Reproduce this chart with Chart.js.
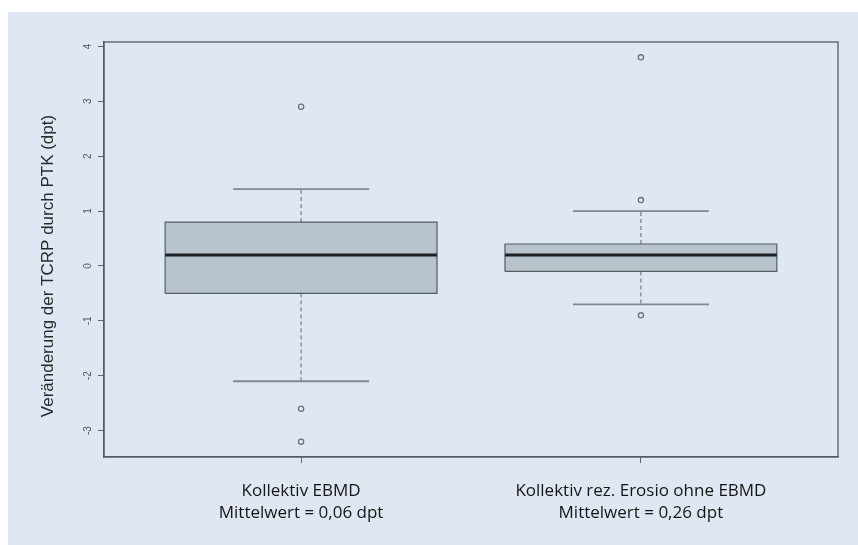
<!DOCTYPE html>
<html>
<head>
<meta charset="utf-8">
<script src="https://cdn.jsdelivr.net/npm/chart.js@4"></script>
<style>
	html, body { margin: 0; padding: 0; background: #fff; }
	#wrap { position: relative; width: 858px; height: 545px; }
	#bg { position: absolute; left: 8px; top: 12px; right: 0; bottom: 0; background: #dfe8f2; }
	#chart { position: absolute; left: 0; top: 0; }
</style>
</head>
<body>
<div id="wrap">
	<div id="bg"></div>
	<canvas id="chart" width="858" height="545"></canvas>
</div>
<script>
'use strict';

// Box plot figures (dpt).
const categories = [
	[ 'Kollektiv EBMD', 'Mittelwert = 0,06 dpt' ],
	[ 'Kollektiv rez. Erosio ohne EBMD', 'Mittelwert = 0,26 dpt' ],
];
const lowerWhisker = [ -2.1, -0.7 ];
const lowerQuartile = [ -0.5, -0.1 ];
const median = [ 0.2, 0.2 ];
const upperQuartile = [ 0.8, 0.4 ];
const upperWhisker = [ 1.4, 1.0 ];
const outliers = [ [ 2.9, -2.6, -3.2 ], [ 3.8, 1.2, -0.9 ] ];
const yTicks = [ -3, -2, -1, 0, 1, 2, 3, 4 ];

const BOX_HALF = 0.4;   // half box width, x units
const CAP_HALF = 0.2;   // half staple width

const seg = ( x0, x1, y0, y1 ) => [ { x: x0, y: y0 }, { x: x1, y: y1 } ];
const base = { pointRadius: 0, fill: false, tension: 0 };

// lower `order` is painted on top
const datasets = [];
categories.forEach( ( c, i ) => {
	const x = i + 1;
	const lo = x - BOX_HALF, hi = x + BOX_HALF;
	// box fill between the quartiles
	datasets.push( { ...base, order: 10, data: seg( lo, hi, upperQuartile[ i ], upperQuartile[ i ] ),
		fill: { value: lowerQuartile[ i ] }, backgroundColor: '#b9c3cd', borderWidth: 0 } );
	// whiskers (dashed)
	datasets.push( { ...base, order: 6, data: seg( x, x, upperQuartile[ i ], upperWhisker[ i ] ),
		borderColor: '#666', borderWidth: 1, borderDash: [ 4, 3 ] } );
	datasets.push( { ...base, order: 6, data: seg( x, x, lowerQuartile[ i ], lowerWhisker[ i ] ),
		borderColor: '#666', borderWidth: 1, borderDash: [ 4, 3 ] } );
	// staples
	datasets.push( { ...base, order: 5, data: seg( x - CAP_HALF, x + CAP_HALF, upperWhisker[ i ], upperWhisker[ i ] ),
		borderColor: '#80878e', borderWidth: 1.8 } );
	datasets.push( { ...base, order: 5, data: seg( x - CAP_HALF, x + CAP_HALF, lowerWhisker[ i ], lowerWhisker[ i ] ),
		borderColor: '#80878e', borderWidth: 1.8 } );
	// box outline
	datasets.push( { ...base, order: 3, borderColor: '#555b61', borderWidth: 1.2, data: [
		{ x: lo, y: lowerQuartile[ i ] }, { x: hi, y: lowerQuartile[ i ] },
		{ x: hi, y: upperQuartile[ i ] }, { x: lo, y: upperQuartile[ i ] },
		{ x: lo, y: lowerQuartile[ i ] },
	] } );
	// median
	datasets.push( { ...base, order: 2, data: seg( lo, hi, median[ i ], median[ i ] ),
		borderColor: '#1e2226', borderWidth: 3 } );
	// outliers
	datasets.push( { order: 1, data: outliers[ i ].map( ( v ) => ( { x, y: v } ) ), showLine: false,
		pointStyle: 'circle', pointRadius: 2.6, pointBorderWidth: 1.3,
		pointBorderColor: '#6e7378', pointBackgroundColor: 'rgba(0,0,0,0)' } );
} );

// R-style closed frame round the plot region
const frame = {
	id: 'frame',
	afterDatasetsDraw( chart ) {
		const { ctx, chartArea: a } = chart;
		ctx.save();
		ctx.strokeStyle = '#555b61';
		ctx.lineWidth = 1.3;
		ctx.strokeRect( a.left, a.top, a.right - a.left, a.bottom - a.top );
		ctx.restore();
	},
};

new Chart( document.getElementById( 'chart' ), {
	type: 'line',
	data: { datasets },
	plugins: [ frame ],
	options: {
		responsive: false,
		animation: false,
		events: [],
		layout: { padding: { left: 0, top: 42, right: 20, bottom: 0 } },
		plugins: { legend: { display: false }, tooltip: { enabled: false } },
		scales: {
			x: {
				type: 'linear',
				min: 0.42,
				max: 2.58,
				afterBuildTicks: ( s ) => { s.ticks = categories.map( ( c, i ) => ( { value: i + 1 } ) ); },
				afterFit: ( s ) => { s.height = 88; },
				grid: { drawOnChartArea: false, tickLength: 6, tickColor: '#666', tickWidth: 1 },
				border: { color: '#555b61', width: 1.3 },
				ticks: {
					callback: ( v ) => categories[ v - 1 ],
					font: { family: 'Open Sans', size: 17, lineHeight: 1.3 },
					color: '#151515',
					padding: 17,
					maxRotation: 0,
				},
			},
			y: {
				type: 'linear',
				min: -3.48,
				max: 4.08,
				afterBuildTicks: ( s ) => { s.ticks = yTicks.map( ( v ) => ( { value: v } ) ); },
				afterFit: ( s ) => { s.width = 104; },
				grid: { drawOnChartArea: false, tickLength: 6, tickColor: '#666', tickWidth: 1 },
				border: { color: '#555b61', width: 1.3 },
				ticks: {
					minRotation: 90,
					maxRotation: 90,
					crossAlign: 'center',
					font: { family: 'Liberation Sans', size: 10 },
					color: '#555',
					padding: 5,
				},
				title: {
					display: true,
					text: 'Veränderung der TCRP durch PTK (dpt)       ',
					font: { family: 'Liberation Sans', size: 17 },
					color: '#2a2a2a',
					padding: { top: 38, bottom: 0 },
				},
			},
		},
	},
} );
</script>
</body>
</html>
